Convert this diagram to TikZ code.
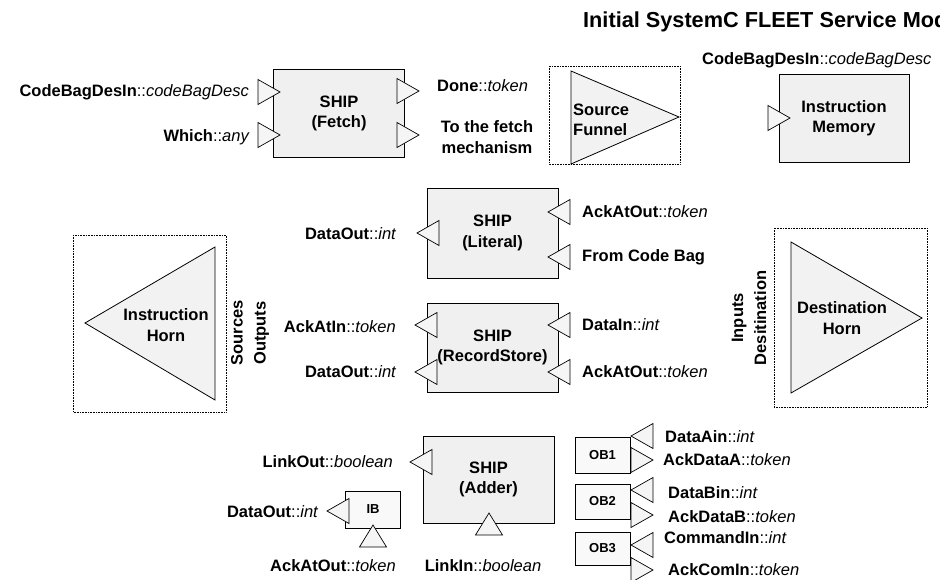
\documentclass[tikz,border=0pt]{standalone}
\usepackage{fontspec}
\setmainfont{Liberation Sans}

\newcommand{\sig}[2]{#1{\mdseries::\itshape #2}}

\tikzset{
  ship/.style={draw, line width=0.9pt, fill=gray!12, minimum width=131pt, minimum height=88pt, align=center, inner sep=0pt},
  buffer/.style={draw, line width=0.8pt, fill=gray!5, minimum width=55pt, minimum height=36pt, inner sep=0pt, font=\fontsize{13}{15}\selectfont\bfseries},
  port/.style={draw, line width=0.7pt, fill=gray!8, line join=miter},
  portR/.pic={\draw[port] (-22,-12.5) -- (0,0) -- (-22,12.5) -- cycle;},
  portL/.pic={\draw[port] (22,-12.5) -- (0,0) -- (22,12.5) -- cycle;},
  portU/.pic={\draw[port] (-13.5,22) -- (0,0) -- (13.5,22) -- cycle;},
  frame/.style={draw, densely dotted, line width=0.6pt},
  horn/.style={draw, line width=0.8pt, fill=gray!10},
  lbl/.style={inner sep=0pt}
}

\begin{document}
\begin{tikzpicture}[x=1pt, y=-1pt, font=\fontsize{16.5}{20.5}\selectfont\bfseries]
        \useasboundingbox (0,0) rectangle (940,580);
        \clip (0,0) rectangle (940,580);
        \node[lbl, anchor=base west, font=\fontsize{21.7}{25}\selectfont\bfseries] (title) at (583,28) {Initial SystemC FLEET Service Model};

        % fetch
        \node[ship] (fetch) at (339,113.5) {SHIP\\(Fetch)};
        \pic (fetchA) at (280,92) {portR};
        \pic (fetchB) at (280,135) {portR};
        \pic (fetchC) at (419,91) {portR};
        \pic (fetchD) at (419,135) {portR};
        \node[lbl, anchor=east] (fetchAlbl) at (249,92) {\sig{CodeBagDesIn}{codeBagDesc}};
        \node[lbl, anchor=east] (fetchBlbl) at (249,137) {\sig{Which}{any}};
        \node[lbl, anchor=west] (fetchClbl) at (437,86) {\sig{Done}{token}};
        \node[lbl, align=center] (fetchDlbl) at (487,137) {To the fetch\\mechanism};

        % source funnel
        \draw[frame] (549,66) rectangle (680,164);
        \draw[horn] (571,71) -- (571,164) -- (679,117) -- cycle;
        \node[lbl, align=left, anchor=west] (funnel) at (573,120) {Source\\Funnel};

        % instruction memory
        \node[lbl, anchor=west] (imemlbl) at (702,60) {\sig{CodeBagDesIn}{codeBagDesc}};
        \node[ship, minimum width=130pt] (imem) at (844,118) {Instruction\\Memory};
        \pic (imemA) at (790,118) {portR};

        % literal
        \node[ship, minimum height=90pt] (literal) at (492.5,233) {SHIP\\(Literal)};
        \pic (litOut) at (417,233) {portL};
        \pic (litA) at (548,212) {portL};
        \pic (litB) at (548,257) {portL};
        \node[lbl, anchor=east] (litOutlbl) at (396,234) {\sig{DataOut}{int}};
        \node[lbl, anchor=west] (litAlbl) at (582,212) {\sig{AckAtOut}{token}};
        \node[lbl, anchor=west] (litBlbl) at (582,257) {From Code Bag};

        % record store
        \node[ship, minimum height=89pt] (record) at (492.5,347.5) {SHIP\\(RecordStore)};
        \pic (recOutA) at (415,325) {portL};
        \pic (recOutB) at (415,372) {portL};
        \pic (recA) at (548,325) {portL};
        \pic (recB) at (548,372) {portL};
        \node[lbl, anchor=east] (recOutAlbl) at (396,327) {\sig{AckAtIn}{token}};
        \node[lbl, anchor=east] (recOutBlbl) at (396,372) {\sig{DataOut}{int}};
        \node[lbl, anchor=west] (recAlbl) at (582,325) {\sig{DataIn}{int}};
        \node[lbl, anchor=west] (recBlbl) at (582,372) {\sig{AckAtOut}{token}};

        % instruction horn
        \draw[frame] (73,235) rectangle (226,412);
        \draw[horn] (215,247) -- (215,400) -- (85,323) -- cycle;
        \node[lbl, align=center] (ihorn) at (166,325) {Instruction\\Horn};
        \node[lbl, align=center, rotate=90, font=\fontsize{16.5}{23}\selectfont\bfseries] (srcout) at (250,333) {Sources\\Outputs};

        % destination horn
        \draw[frame] (774,228) rectangle (927,407);
        \draw[horn] (791,242) -- (791,393) -- (922,318) -- cycle;
        \node[lbl, align=center] (dhorn) at (842,318) {Destination\\Horn};
        \node[lbl, align=center, rotate=90, font=\fontsize{16.5}{23}\selectfont\bfseries] (dstin) at (749,318) {Inputs\\Desitination};

        % adder
        \node[ship, minimum height=87pt] (adder) at (488.5,479.5) {SHIP\\(Adder)};
        \pic (addOut) at (410,462) {portL};
        \pic (addIn) at (489,513) {portU};
        \node[lbl, anchor=east] (addOutlbl) at (393,462) {\sig{LinkOut}{boolean}};
        \node[lbl] (addInlbl) at (483,566) {\sig{LinkIn}{boolean}};

        % input buffer
        \node[buffer, minimum height=37pt] (ib) at (373,509.5) {IB};
        \pic (ibOut) at (327,511) {portL};
        \pic (ibIn) at (373,525) {portU};
        \node[lbl, anchor=east] (ibOutlbl) at (318,512) {\sig{DataOut}{int}};
        \node[lbl] (ibInlbl) at (333,566) {\sig{AckAtOut}{token}};

        % output buffers
        \node[buffer] (ob1) at (602.5,455) {OB1};
        \node[buffer, minimum height=35pt] (ob2) at (602.5,501.5) {OB2};
        \node[buffer, minimum height=33pt] (ob3) at (602.5,548.5) {OB3};
        \pic (ob1In) at (631,436) {portL};
        \pic (ob1Out) at (653,460) {portR};
        \pic (ob2In) at (631,490) {portL};
        \pic (ob2Out) at (653,515) {portR};
        \pic (ob3In) at (631,545) {portL};
        \pic (ob3Out) at (653,570) {portR};
        \node[lbl, anchor=west] (ob1Inlbl) at (665,437) {\sig{DataAin}{int}};
        \node[lbl, anchor=west] (ob1Outlbl) at (663,460) {\sig{AckDataA}{token}};
        \node[lbl, anchor=west] (ob2Inlbl) at (668,493) {\sig{DataBin}{int}};
        \node[lbl, anchor=west] (ob2Outlbl) at (668,517) {\sig{AckDataB}{token}};
        \node[lbl, anchor=west] (ob3Inlbl) at (664,538) {\sig{CommandIn}{int}};
        \node[lbl, anchor=west] (ob3Outlbl) at (668,570) {\sig{AckComIn}{token}};
    \end{tikzpicture}
\end{document}
